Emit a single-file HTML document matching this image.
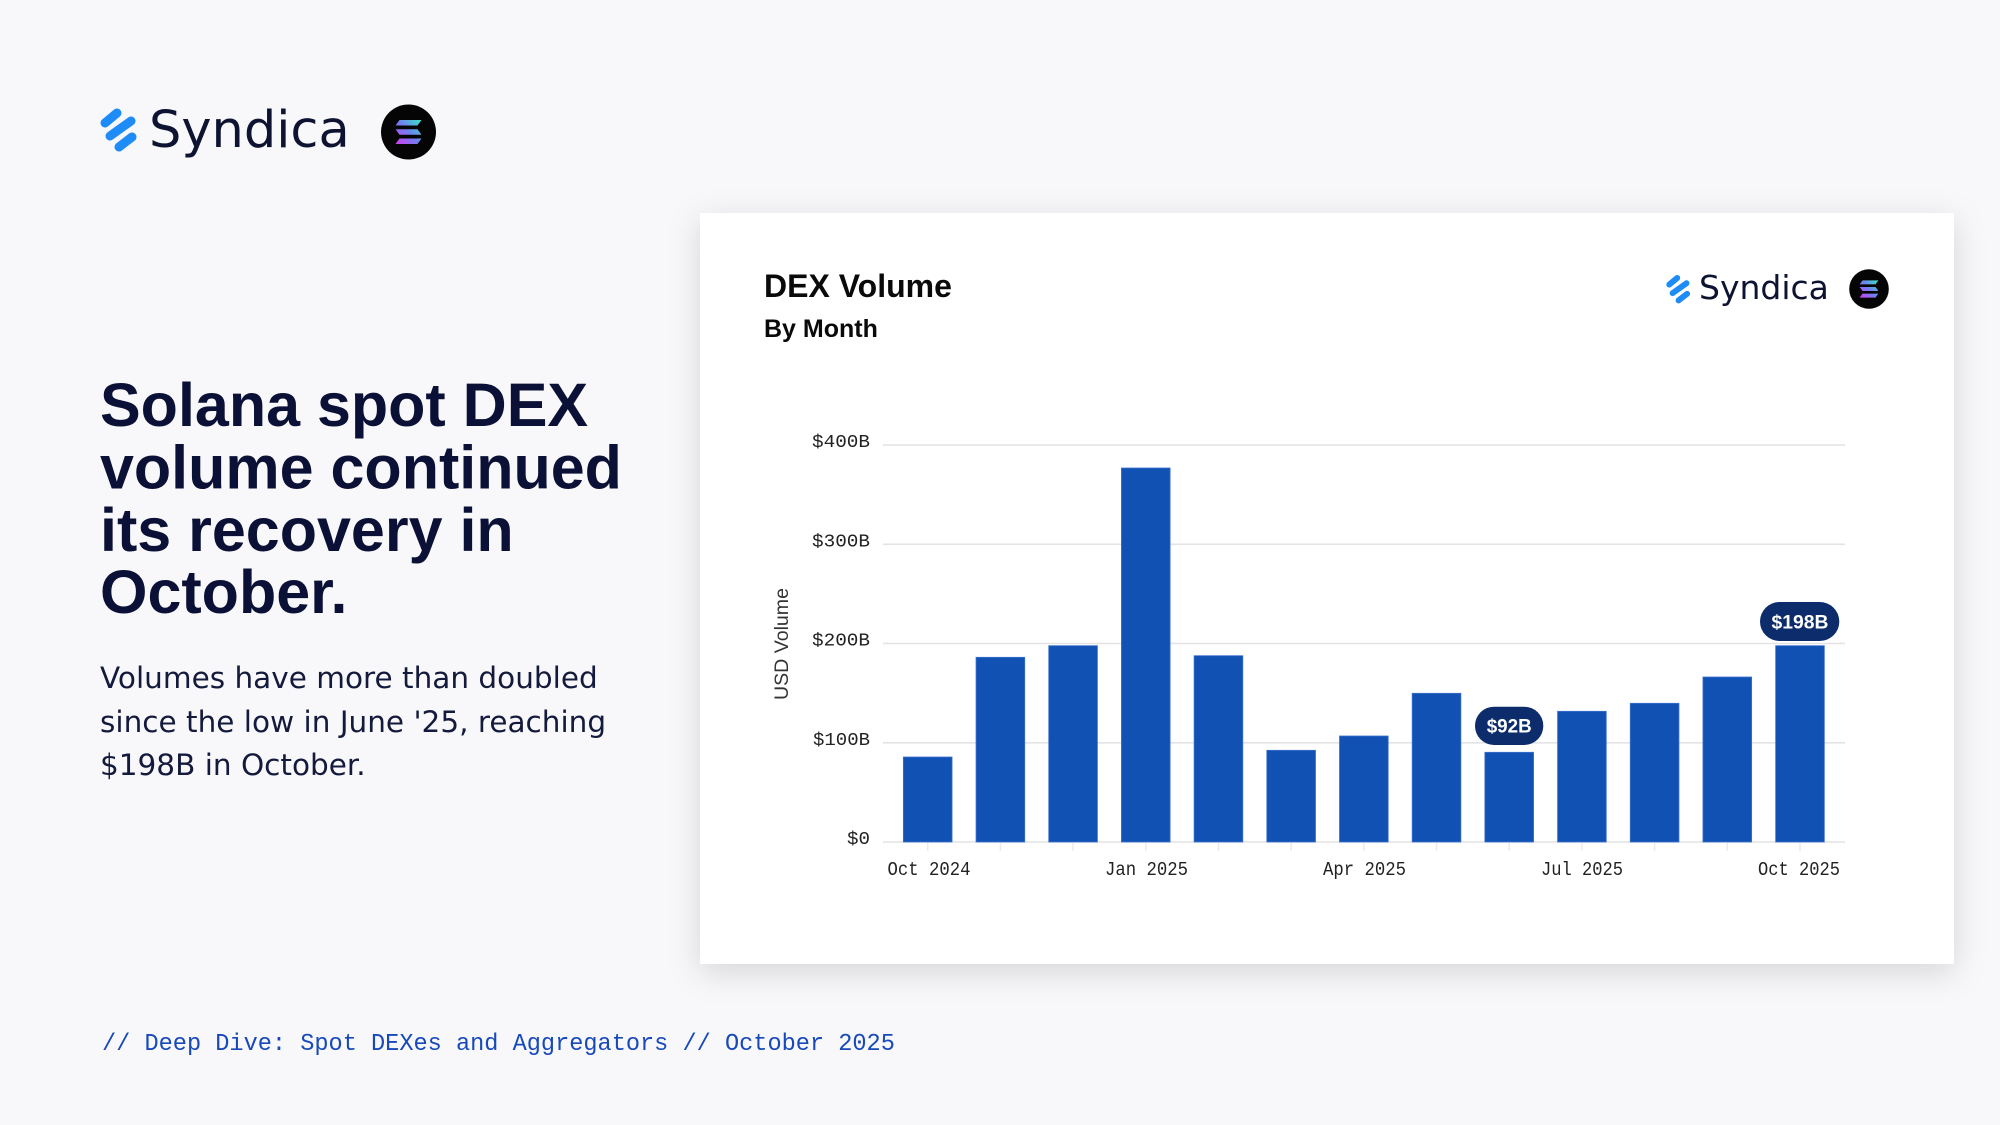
<!DOCTYPE html>
<html>
<head>
<meta charset="utf-8">
<style>
  html, body { margin: 0; padding: 0; width: 2000px; height: 1125px; overflow: hidden; background: #f8f8fb; }
  svg { display: block; }
</style>
</head>
<body>
<svg width="2000" height="1125" viewBox="0 0 2000 1125" xmlns="http://www.w3.org/2000/svg">
  <defs>
    <filter id="sh" x="-10%" y="-10%" width="120%" height="130%">
      <feDropShadow dx="0" dy="8" stdDeviation="16" flood-color="#000" flood-opacity="0.14"/>
    </filter>
    <linearGradient id="sol" gradientUnits="userSpaceOnUse" x1="13" y1="-12" x2="-13" y2="12">
      <stop offset="0" stop-color="#38e6c2"/>
      <stop offset="0.5" stop-color="#6f80f0"/>
      <stop offset="1" stop-color="#d33cf4"/>
    </linearGradient>
  </defs>

  <rect width="2000" height="1125" fill="#f8f8fb"/>

  <!-- Top-left logo -->
  <g transform="translate(100,107)" stroke="#1e8cf7" stroke-width="9" stroke-linecap="round" fill="none">
    <line x1="5" y1="16" x2="17" y2="6"/>
    <line x1="10" y1="29" x2="31" y2="14"/>
    <line x1="19" y1="40" x2="32" y2="30"/>
  </g>
  <text x="149" y="147" font-family="DejaVu Sans, Liberation Sans, sans-serif" font-size="51" fill="#0d1330">Syndica</text>
  <circle cx="408.5" cy="132" r="27.5" fill="#050505"/>
  <g transform="translate(408.5,132)" fill="url(#sol)">
    <polygon points="-9,-12 13,-12 9,-6.5 -13,-6.5"/>
    <polygon points="-13,-2.7 9,-2.7 13,2.7 -9,2.7"/>
    <polygon points="-9,6.5 13,6.5 9,12 -13,12"/>
  </g>

  <!-- Heading -->
  <g font-family="Liberation Sans, Arial, sans-serif" font-weight="bold" font-size="61" fill="#0b1136">
    <text x="100" y="426">Solana spot DEX</text>
    <text x="100" y="488.5">volume continued</text>
    <text x="100" y="551">its recovery in</text>
    <text x="100" y="613">October.</text>
  </g>

  <!-- Paragraph -->
  <g font-family="DejaVu Sans, Liberation Sans, sans-serif" font-size="29.5" fill="#141a3c">
    <text x="100" y="688">Volumes have more than doubled</text>
    <text x="100" y="732">since the low in June '25, reaching</text>
    <text x="100" y="775">$198B in October.</text>
  </g>

  <!-- Footer -->
  <text x="102" y="1050" font-family="Liberation Mono, DejaVu Sans Mono, monospace" font-size="23.6" fill="#1749b9">// Deep Dive: Spot DEXes and Aggregators // October 2025</text>

  <!-- Card -->
  <rect x="700" y="213" width="1254" height="751" fill="#ffffff" filter="url(#sh)"/>

  <!-- Card header -->
  <text x="764" y="297" font-family="Liberation Sans, Arial, sans-serif" font-weight="bold" font-size="32" fill="#0a0a0a">DEX Volume</text>
  <text x="764" y="337" font-family="Liberation Sans, Arial, sans-serif" font-weight="bold" font-size="25" fill="#0a0a0a">By Month</text>

  <!-- Card logo -->
  <g transform="translate(1666,274) scale(0.66)" stroke="#1e8cf7" stroke-width="9" stroke-linecap="round" fill="none">
    <line x1="5" y1="16" x2="17" y2="6"/>
    <line x1="10" y1="29" x2="31" y2="14"/>
    <line x1="19" y1="40" x2="32" y2="30"/>
  </g>
  <text x="1699" y="299" font-family="DejaVu Sans, Liberation Sans, sans-serif" font-size="33" fill="#0d1330">Syndica</text>
  <circle cx="1869" cy="289" r="19.8" fill="#050505"/>
  <g transform="translate(1869,289) scale(0.72)" fill="url(#sol)">
    <polygon points="-9,-12 13,-12 9,-6.5 -13,-6.5"/>
    <polygon points="-13,-2.7 9,-2.7 13,2.7 -9,2.7"/>
    <polygon points="-9,6.5 13,6.5 9,12 -13,12"/>
  </g>

  <!-- Gridlines -->
  <g stroke="#e3e3e3" stroke-width="1.6">
    <line x1="883" y1="445" x2="1845" y2="445"/>
    <line x1="883" y1="544.3" x2="1845" y2="544.3"/>
    <line x1="883" y1="643.5" x2="1845" y2="643.5"/>
    <line x1="883" y1="742.8" x2="1845" y2="742.8"/>
    <line x1="883" y1="842" x2="1845" y2="842"/>
  </g>

  <!-- Ticks -->
  <g stroke="#ebebeb" stroke-width="1.5">
    <line x1="927.7" y1="843" x2="927.7" y2="851"/>
    <line x1="1000.4" y1="843" x2="1000.4" y2="851"/>
    <line x1="1073.1" y1="843" x2="1073.1" y2="851"/>
    <line x1="1145.8" y1="843" x2="1145.8" y2="851"/>
    <line x1="1218.5" y1="843" x2="1218.5" y2="851"/>
    <line x1="1291.2" y1="843" x2="1291.2" y2="851"/>
    <line x1="1363.8" y1="843" x2="1363.8" y2="851"/>
    <line x1="1436.5" y1="843" x2="1436.5" y2="851"/>
    <line x1="1509.2" y1="843" x2="1509.2" y2="851"/>
    <line x1="1581.9" y1="843" x2="1581.9" y2="851"/>
    <line x1="1654.6" y1="843" x2="1654.6" y2="851"/>
    <line x1="1727.3" y1="843" x2="1727.3" y2="851"/>
    <line x1="1800" y1="843" x2="1800" y2="851"/>
  </g>

  <!-- Bars -->
  <g fill="#1151b3" stroke="#3d72cf" stroke-width="0.8">
    <rect x="903.35" y="757" width="48.7" height="85"/>
    <rect x="976.04" y="657.3" width="48.7" height="184.7"/>
    <rect x="1048.73" y="645.7" width="48.7" height="196.3"/>
    <rect x="1121.42" y="468" width="48.7" height="374"/>
    <rect x="1194.11" y="655.7" width="48.7" height="186.3"/>
    <rect x="1266.8" y="750.3" width="48.7" height="91.7"/>
    <rect x="1339.49" y="736" width="48.7" height="106"/>
    <rect x="1412.18" y="693.3" width="48.7" height="148.7"/>
    <rect x="1484.87" y="752.3" width="48.7" height="89.7"/>
    <rect x="1557.56" y="711.3" width="48.7" height="130.7"/>
    <rect x="1630.25" y="703.3" width="48.7" height="138.7"/>
    <rect x="1702.94" y="677" width="48.7" height="165"/>
    <rect x="1775.63" y="645.7" width="48.7" height="196.3"/>
  </g>

  <!-- Y axis labels -->
  <g font-family="Liberation Mono, DejaVu Sans Mono, monospace" font-size="18" fill="#222" text-anchor="end">
    <text x="870" y="447" textLength="58" lengthAdjust="spacingAndGlyphs">$400B</text>
    <text x="870" y="546.3" textLength="58" lengthAdjust="spacingAndGlyphs">$300B</text>
    <text x="870" y="645.5" textLength="58" lengthAdjust="spacingAndGlyphs">$200B</text>
    <text x="870" y="744.8" textLength="57" lengthAdjust="spacingAndGlyphs">$100B</text>
    <text x="870" y="844" textLength="23" lengthAdjust="spacingAndGlyphs">$0</text>
  </g>

  <!-- Y axis title -->
  <text x="788" y="644" transform="rotate(-90 788 644)" font-family="Liberation Sans, Arial, sans-serif" font-size="19" fill="#333" text-anchor="middle" textLength="112" lengthAdjust="spacingAndGlyphs">USD Volume</text>

  <!-- X axis labels -->
  <g font-family="Liberation Mono, DejaVu Sans Mono, monospace" font-size="19" fill="#222" text-anchor="middle">
    <text x="929" y="875" textLength="83" lengthAdjust="spacingAndGlyphs">Oct 2024</text>
    <text x="1146.5" y="875" textLength="83" lengthAdjust="spacingAndGlyphs">Jan 2025</text>
    <text x="1364.5" y="875" textLength="83" lengthAdjust="spacingAndGlyphs">Apr 2025</text>
    <text x="1582" y="875" textLength="82" lengthAdjust="spacingAndGlyphs">Jul 2025</text>
    <text x="1799" y="875" textLength="82" lengthAdjust="spacingAndGlyphs">Oct 2025</text>
  </g>

  <!-- Annotation pills -->
  <rect x="1760" y="602" width="79.3" height="39" rx="19.5" fill="#0c2c6c"/>
  <text x="1800" y="628.3" font-family="Liberation Sans, Arial, sans-serif" font-weight="bold" font-size="19" fill="#ffffff" text-anchor="middle" textLength="57" lengthAdjust="spacingAndGlyphs">$198B</text>
  <rect x="1475" y="706.7" width="68.3" height="38.3" rx="19" fill="#0c2c6c"/>
  <text x="1509.2" y="732.6" font-family="Liberation Sans, Arial, sans-serif" font-weight="bold" font-size="19" fill="#ffffff" text-anchor="middle" textLength="45" lengthAdjust="spacingAndGlyphs">$92B</text>
</svg>
</body>
</html>
